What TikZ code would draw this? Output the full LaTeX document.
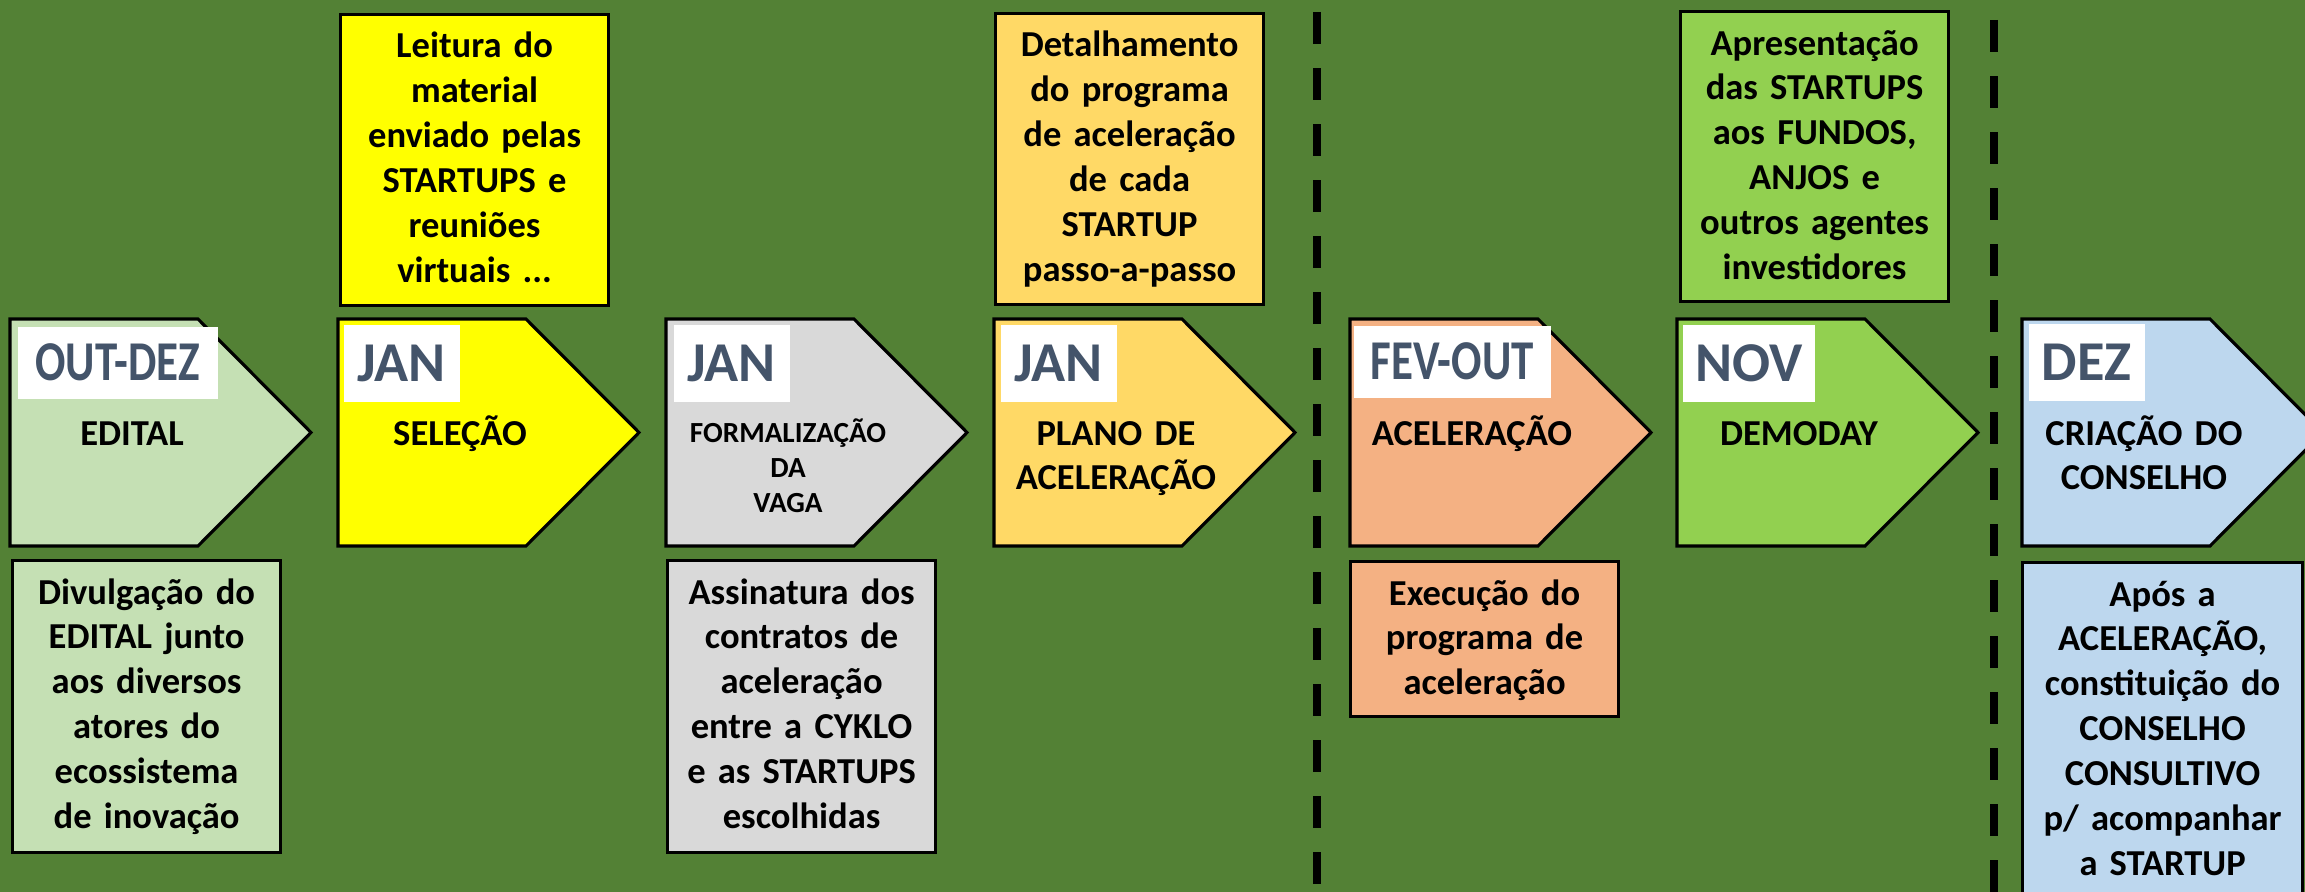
\documentclass[tikz,border=0pt]{standalone}
\usepackage{fontspec}
\setmainfont{Carlito}
\usetikzlibrary{positioning}

\definecolor{bggreen}{HTML}{538135}
\definecolor{editalc}{HTML}{C5E0B4}
\definecolor{selecaoc}{HTML}{FFFF00}
\definecolor{vagac}{HTML}{D9D9D9}
\definecolor{planoc}{HTML}{FFD966}
\definecolor{acelc}{HTML}{F4B183}
\definecolor{democ}{HTML}{92D050}
\definecolor{conselhoc}{HTML}{BDD7EE}
\definecolor{monthc}{HTML}{44546A}

\tikzset{
  stage/.style={draw=black, line width=0.9pt, line join=miter},
  month/.style={fill=white, inner sep=0pt, minimum height=0.77cm,
    minimum width=1.16cm, text=monthc,
    font=\bfseries\fontsize{16}{16}\selectfont},
  stagetxt/.style={anchor=base, align=center, inner sep=0pt, text width=2.4cm,
    font=\bfseries\fontsize{10.4}{12.8}\selectfont},
  smalltxt/.style={stagetxt, font=\bfseries\fontsize{8.3}{10.1}\selectfont},
  infobox/.style={draw=black, line width=0.9pt, anchor=north west,
    minimum width=2.68cm, inner sep=0pt},
  infotxt/.style={anchor=base, align=center, inner sep=0pt, text width=2.7cm,
    font=\bfseries\fontsize{10.4}{12.8}\selectfont},
  divider/.style={line width=0.085cm, dash pattern=on 0.32cm off 0.24cm}
}

\begin{document}
\begin{tikzpicture}
  \useasboundingbox (0,0) rectangle (23.05,-8.92);
  \clip (0,0) rectangle (23.05,-8.92);
  \fill[bggreen] (0,0) rectangle (23.05,-8.92);

  % separators
  \draw[divider] (13.17,-0.12) -- (13.17,-8.92);
  \draw[divider] (19.94,-0.20) -- (19.94,-8.92);

  % stages
  \coordinate (s1) at (0.10,-3.19);
  \coordinate (s2) at (3.38,-3.19);
  \coordinate (s3) at (6.66,-3.19);
  \coordinate (s4) at (9.94,-3.19);
  \coordinate (s5) at (13.50,-3.19);
  \coordinate (s6) at (16.77,-3.19);
  \coordinate (s7) at (20.22,-3.19);

  \filldraw[stage, fill=editalc] (s1) -- ++(1.88,0) -- ++(1.13,-1.135) -- ++(-1.13,-1.135) -- ++(-1.88,0) -- cycle;
  \filldraw[stage, fill=selecaoc] (s2) -- ++(1.88,0) -- ++(1.13,-1.135) -- ++(-1.13,-1.135) -- ++(-1.88,0) -- cycle;
  \filldraw[stage, fill=vagac] (s3) -- ++(1.88,0) -- ++(1.13,-1.135) -- ++(-1.13,-1.135) -- ++(-1.88,0) -- cycle;
  \filldraw[stage, fill=planoc] (s4) -- ++(1.88,0) -- ++(1.13,-1.135) -- ++(-1.13,-1.135) -- ++(-1.88,0) -- cycle;
  \filldraw[stage, fill=acelc] (s5) -- ++(1.88,0) -- ++(1.13,-1.135) -- ++(-1.13,-1.135) -- ++(-1.88,0) -- cycle;
  \filldraw[stage, fill=democ] (s6) -- ++(1.88,0) -- ++(1.13,-1.135) -- ++(-1.13,-1.135) -- ++(-1.88,0) -- cycle;
  \filldraw[stage, fill=conselhoc] (s7) -- ++(1.88,0) -- ++(1.13,-1.135) -- ++(-1.13,-1.135) -- ++(-1.88,0) -- cycle;

  \node[month, minimum width=2.00cm, minimum height=0.72cm, below right=0.07cm and 0.07cm of s1] (m1) {\scalebox{0.8}[1]{OUT-DEZ}};
  \node[month, below right=0.05cm and 0.05cm of s2] (m2) {JAN};
  \node[month, below right=0.05cm and 0.07cm of s3] (m3) {JAN};
  \node[month, below right=0.05cm and 0.06cm of s4] (m4) {JAN};
  \node[month, minimum width=1.97cm, minimum height=0.72cm, below right=0.06cm and 0.03cm of s5] (m5) {\scalebox{0.8}[1]{FEV-OUT}};
  \node[month, minimum width=1.32cm, below right=0.05cm and 0.05cm of s6] (m6) {NOV};
  \node[month, below right=0.04cm and 0.06cm of s7] (m7) {DEZ};

  \node[stagetxt] (e1) at ([shift={(1.22,-1.26)}]s1) {EDITAL};
  \node[stagetxt] (e2) at ([shift={(1.22,-1.26)}]s2) {SELEÇÃO};
  \node[smalltxt] (e3) at ([shift={(1.22,-1.23)}]s3) {FORMALIZAÇÃO\\DA\\VAGA};
  \node[stagetxt] (e4) at ([shift={(1.22,-1.26)}]s4) {PLANO DE\\ACELERAÇÃO};
  \node[stagetxt] (e5) at ([shift={(1.22,-1.26)}]s5) {ACELERAÇÃO};
  \node[stagetxt] (e6) at ([shift={(1.22,-1.26)}]s6) {DEMODAY};
  \node[stagetxt] (e7) at ([shift={(1.22,-1.26)}]s7) {CRIAÇÃO DO\\CONSELHO};

  % notes above
  \node[infobox, fill=selecaoc, minimum height=2.91cm] (n2) at (3.39,-0.13) {};
  \node[infobox, fill=planoc, minimum height=2.91cm] (n4) at (9.94,-0.12) {};
  \node[infobox, fill=democ, minimum height=2.90cm] (n6) at (16.79,-0.10) {};

  \node[infotxt] (n2t) at ([yshift=-0.45cm]n2.north) {Leitura do\\material\\enviado pelas\\STARTUPS e\\reuniões\\virtuais ...};
  \node[infotxt] (n4t) at ([yshift=-0.45cm]n4.north) {Detalhamento\\do programa\\de aceleração\\de cada\\STARTUP\\passo-a-passo};
  \node[infotxt] (n6t) at ([yshift=-0.45cm]n6.north) {Apresentação\\das STARTUPS\\aos FUNDOS,\\ANJOS e\\outros agentes\\investidores};

  % notes below
  \node[infobox, fill=editalc, minimum height=2.92cm] (n1) at (0.11,-5.59) {};
  \node[infobox, fill=vagac, minimum height=2.92cm] (n3) at (6.66,-5.59) {};
  \node[infobox, fill=acelc, minimum height=1.55cm] (n5) at (13.49,-5.60) {};
  \node[infobox, fill=conselhoc, minimum width=2.80cm, minimum height=3.40cm] (n7) at (20.21,-5.61) {};

  \node[infotxt] (n1t) at ([yshift=-0.45cm]n1.north) {Divulgação do\\EDITAL junto\\aos diversos\\atores do\\ecossistema\\de inovação};
  \node[infotxt] (n3t) at ([yshift=-0.45cm]n3.north) {Assinatura dos\\contratos de\\aceleração\\entre a CYKLO\\e as STARTUPS\\escolhidas};
  \node[infotxt] (n5t) at ([yshift=-0.45cm]n5.north) {Execução do\\programa de\\aceleração};
  \node[infotxt] (n7t) at ([yshift=-0.45cm]n7.north) {Após a\\ACELERAÇÃO,\\constituição do\\CONSELHO\\CONSULTIVO\\p/ acompanhar\\a STARTUP};
\end{tikzpicture}
\end{document}
